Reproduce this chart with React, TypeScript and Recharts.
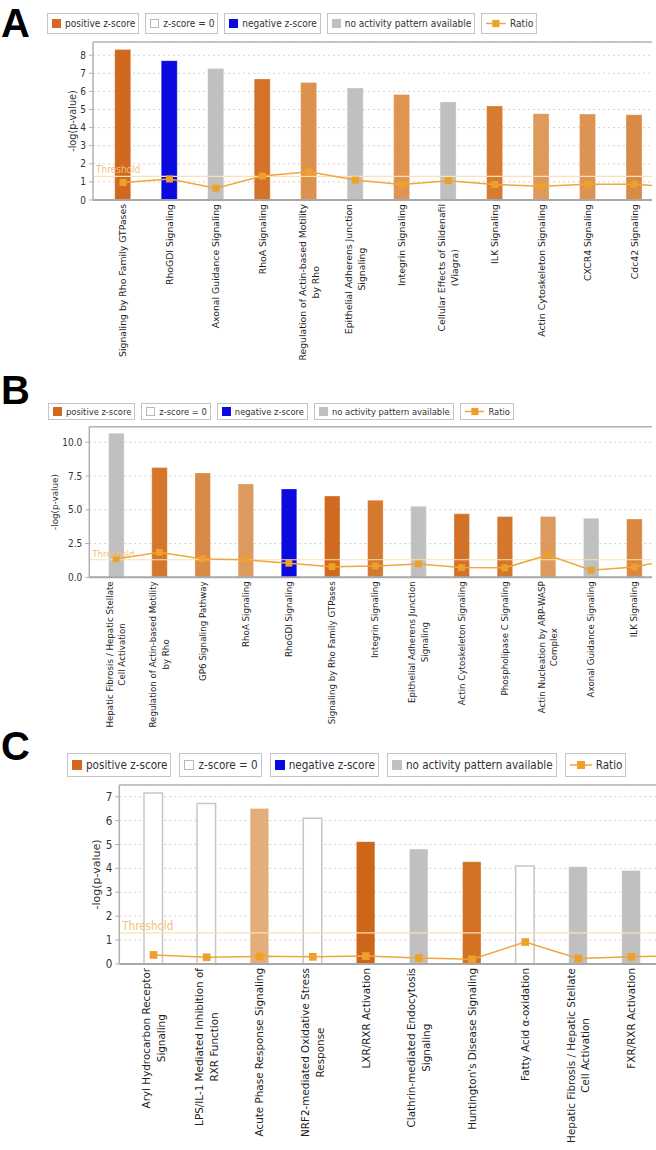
import React from "react";
import { ComposedChart, Bar, Line, XAxis, YAxis, CartesianGrid, ReferenceLine, Cell } from "recharts";

// ---- panel A ----
const catsA = [
  "Signaling by Rho Family GTPases",
  "RhoGDI Signaling",
  "Axonal Guidance Signaling",
  "RhoA Signaling",
  "Regulation of Actin-based Motility\nby Rho",
  "Epithelial Adherens Junction\nSignaling",
  "Integrin Signaling",
  "Cellular Effects of Sildenafil\n(Viagra)",
  "ILK Signaling",
  "Actin Cytoskeleton Signaling",
  "CXCR4 Signaling",
  "Cdc42 Signaling",
  "", // next pathway, scrolled out of view
];
const pvalA = [8.31, 7.7, 7.26, 6.69, 6.49, 6.19, 5.83, 5.42, 5.2, 4.77, 4.75, 4.71, null];
const ratioA = [0.97, 1.16, 0.65, 1.32, 1.56, 1.1, 0.86, 1.07, 0.86, 0.76, 0.87, 0.87, 0.7];
const colorA = ["#d0691d", "#0a0ade", "#c0c0c0", "#d4722a", "#dc914d", "#c0c0c0", "#de9552", "#c0c0c0", "#d67c32", "#dd9a5a", "#dc9452", "#d98a44", "#c0c0c0"];

// ---- panel B ----
const catsB = [
  "Hepatic Fibrosis / Hepatic Stellate\nCell Activation",
  "Regulation of Actin-based Motility\nby Rho",
  "GP6 Signaling Pathway",
  "RhoA Signaling",
  "RhoGDI Signaling",
  "Signaling by Rho Family GTPases",
  "Integrin Signaling",
  "Epithelial Adherens Junction\nSignaling",
  "Actin Cytoskeleton Signaling",
  "Phospholipase C Signaling",
  "Actin Nucleation by ARP-WASP\nComplex",
  "Axonal Guidance Signaling",
  "ILK Signaling",
  "",
];
const pvalB = [10.67, 8.12, 7.73, 6.91, 6.54, 6.02, 5.7, 5.26, 4.7, 4.5, 4.5, 4.37, 4.31, null];
const ratioB = [1.36, 1.85, 1.36, 1.3, 1.04, 0.79, 0.84, 0.99, 0.72, 0.7, 1.64, 0.52, 0.77, 1.4];
const colorB = ["#c0c0c0", "#d4772d", "#d98b46", "#dc9a5e", "#0a0ade", "#cf6a1e", "#d5792e", "#c0c0c0", "#d27228", "#d4762b", "#dc9a5c", "#c0c0c0", "#d98741", "#c0c0c0"];

// ---- panel C ----
const catsC = [
  "Aryl Hydrocarbon Receptor\nSignaling",
  "LPS/IL-1 Mediated Inhibition of\nRXR Function",
  "Acute Phase Response Signaling",
  "NRF2-mediated Oxidative Stress\nResponse",
  "LXR/RXR Activation",
  "Clathrin-mediated Endocytosis\nSignaling",
  "Huntington's Disease Signaling",
  "Fatty Acid α-oxidation",
  "Hepatic Fibrosis / Hepatic Stellate\nCell Activation",
  "FXR/RXR Activation",
  "",
];
const pvalC = [7.16, 6.72, 6.51, 6.1, 5.12, 4.81, 4.28, 4.1, 4.07, 3.91, null];
const ratioC = [0.38, 0.28, 0.32, 0.3, 0.33, 0.25, 0.2, 0.92, 0.23, 0.3, 0.36];
const colorC = ["none", "none", "#e4ad7c", "none", "#cd6619", "#c0c0c0", "#d27222", "none", "#c0c0c0", "#c0c0c0", "#c0c0c0"];

const THRESHOLD = 1.3;

const NARROW = "'DejaVu Sans Condensed', 'Liberation Sans Narrow', 'DejaVu Sans', sans-serif";
const LABEL_FONT = "'DejaVu Sans', Verdana, sans-serif";
const RATIO = "#eea02c";

let ctx: CanvasRenderingContext2D | null = null;
const textWidth = (s: string, fs: number) => {
  if (!ctx) ctx = document.createElement("canvas").getContext("2d");
  if (!ctx) return s.length * fs * 0.55;
  ctx.font = `${fs}px "DejaVu Sans"`;
  return ctx.measureText(s).width;
};

const CatTick = (props: any) => {
  const { x, y, payload, fs, gap } = props;
  const lines = String(payload.value).split("\n");
  const lh = fs * 1.4;
  const maxW = Math.max(...lines.map((l: string) => textWidth(l, fs)));
  const cx = -(gap + maxW / 2);
  return (
    <g transform={`translate(${x},${y})`}>
      <text transform="rotate(-90)" fontSize={fs} fontFamily={LABEL_FONT} fill="#1e1e1e" textAnchor="middle">
        {lines.map((l: string, i: number) => (
          <tspan key={i} x={cx} y={(i - (lines.length - 1) / 2) * lh + fs * 0.36}>
            {l}
          </tspan>
        ))}
      </text>
    </g>
  );
};

const SquareDot = (props: any) => {
  const { cx, cy, size } = props;
  if (cx == null || cy == null) return null;
  return <rect x={cx - size / 2} y={cy - size / 2} width={size} height={size} fill={RATIO} />;
};

type PanelProps = {
  top: number;
  clipW: number;
  cats: string[];
  pval: (number | null)[];
  ratio: number[];
  colors: string[];
  yMax: number;
  ticks: number[];
  fmt: (v: number) => string;
  marginTop: number;
  plotH: number;
  xAxisH: number;
  yAxisW: number;
  padLeft: number;
  band: number;
  barSize: number;
  labelFs: number;
  tickFs: number;
  yLabelX: number;
  yLabelFs: number;
  mark: number;
  threshFs: number;
};

const Panel = (p: PanelProps) => {
  const data = p.cats.map((c, i) => ({ name: c, pval: p.pval[i], ratio: p.ratio[i] }));
  const height = p.marginTop + p.plotH + p.xAxisH;
  const chartW = Math.round(p.yAxisW + p.padLeft + p.band * p.cats.length);
  const cy = p.marginTop + p.plotH / 2;
  return (
    <div style={{ position: "absolute", left: 0, top: p.top, width: p.clipW, height, overflow: "hidden" }}>
      <ComposedChart width={chartW} height={height} data={data} margin={{ top: p.marginTop, right: 0, bottom: 0, left: 0 }}>
        <CartesianGrid vertical={false} stroke="#d2d2d2" strokeDasharray="2 3" />
        <XAxis
          dataKey="name"
          interval={0}
          height={p.xAxisH}
          tickSize={0}
          tickMargin={0}
          tickLine={false}
          padding={{ left: p.padLeft, right: 0 }}
          axisLine={{ stroke: "#a8a8a8", strokeWidth: 2 }}
          tick={<CatTick fs={p.labelFs} gap={4} />}
        />
        <YAxis
          width={p.yAxisW}
          domain={[0, p.yMax]}
          ticks={p.ticks}
          interval={0}
          tickFormatter={p.fmt}
          tickSize={4}
          tickMargin={3}
          axisLine={{ stroke: "#b0b0b0", strokeWidth: 1.5 }}
          tickLine={{ stroke: "#b0b0b0" }}
          tick={{ fontSize: p.tickFs, fontFamily: NARROW, fill: "#333" }}
          label={() => (
            <text
              transform={`translate(${p.yLabelX},${cy}) rotate(-90)`}
              textAnchor="middle"
              dominantBaseline="central"
              fontSize={p.yLabelFs}
              fontFamily={LABEL_FONT}
              fill="#333"
            >
              -log(p-value)
            </text>
          )}
        />
        <ReferenceLine y={p.yMax} stroke="#b4b4b4" strokeWidth={1.5} />
        <Bar dataKey="pval" barSize={p.barSize} isAnimationActive={false}>
          {data.map((d, i) => {
            const c = p.colors[i];
            const hollow = c === "none";
            return (
              <Cell
                key={i}
                fill={hollow ? "#ffffff" : c}
                stroke={hollow ? "#c6c6c6" : "rgba(255,255,255,0.3)"}
                strokeWidth={hollow ? 1.5 : 1}
              />
            );
          })}
        </Bar>
        <ReferenceLine
          y={THRESHOLD}
          stroke="#fbe0b6"
          strokeWidth={1.2}
          label={{ value: "Threshold", position: "insideBottomLeft", offset: 3, fill: "#f3c07c", fontSize: p.threshFs, fontFamily: NARROW }}
        />
        <Line
          dataKey="ratio"
          stroke="#f0a63a"
          strokeWidth={1.5}
          dot={<SquareDot size={p.mark} />}
          activeDot={false}
          isAnimationActive={false}
        />
      </ComposedChart>
    </div>
  );
};

const legendItems = [
  { kind: "pos", label: "positive z-score" },
  { kind: "zero", label: "z-score = 0" },
  { kind: "neg", label: "negative z-score" },
  { kind: "none", label: "no activity pattern available" },
  { kind: "ratio", label: "Ratio" },
];

const Swatch = ({ kind, s }: { kind: string; s: number }) => {
  if (kind === "ratio") {
    return (
      <svg width={s * 2.2} height={s} style={{ display: "block" }}>
        <line x1={0} x2={s * 2.2} y1={s / 2} y2={s / 2} stroke="#f0a63a" strokeWidth={1.5} />
        <rect x={s * 1.1 - s * 0.4} y={s * 0.1} width={s * 0.8} height={s * 0.8} fill={RATIO} />
      </svg>
    );
  }
  const bg = kind === "pos" ? "#d0691d" : kind === "neg" ? "#0a0ade" : kind === "none" ? "#c0c0c0" : "#fff";
  return (
    <div
      style={{
        width: s,
        height: s,
        boxSizing: "border-box",
        background: bg,
        border: kind === "zero" ? "1px solid #b8b8b8" : "none",
      }}
    />
  );
};

const LegendRow = ({ top, left, fs, h, gap, s }: { top: number; left: number; fs: number; h: number; gap: number; s: number }) => (
  <div style={{ position: "absolute", top, left, display: "flex", gap, fontFamily: NARROW, fontSize: fs, color: "#333" }}>
    {legendItems.map((it) => (
      <div
        key={it.kind}
        style={{
          height: h,
          boxSizing: "border-box",
          border: "1px solid #c4c4c4",
          display: "flex",
          alignItems: "center",
          padding: "0 3px 0 4px",
          gap: 4,
          whiteSpace: "nowrap",
          background: "#fff",
        }}
      >
        <Swatch kind={it.kind} s={s} />
        <span>{it.label}</span>
      </div>
    ))}
  </div>
);

const Letter = ({ ch, top }: { ch: string; top: number }) => (
  <div
    style={{
      position: "absolute",
      left: 1,
      top,
      fontFamily: "'Liberation Sans', Arial, sans-serif",
      fontWeight: 700,
      fontSize: 40,
      lineHeight: 1,
    }}
  >
    {ch}
  </div>
);

const intFmt = (v: number) => String(v);
const decFmt = (v: number) => v.toFixed(1);

export default function App() {
  return (
    <div style={{ position: "absolute", left: 0, top: 0, width: 656, height: 1150, background: "#fff", overflow: "hidden" }}>
      <Panel
        top={0}
        clipW={652}
        cats={catsA}
        pval={pvalA}
        ratio={ratioA}
        colors={colorA}
        yMax={8.73}
        ticks={[0, 1, 2, 3, 4, 5, 6, 7, 8]}
        fmt={intFmt}
        marginTop={42}
        plotH={158}
        xAxisH={170}
        yAxisW={93}
        padLeft={6.75}
        band={46.5}
        barSize={16}
        labelFs={9.3}
        tickFs={10}
        yLabelX={72}
        yLabelFs={9.7}
        mark={7}
        threshFs={10}
      />
      <Panel
        top={380}
        clipW={652}
        cats={catsB}
        pval={pvalB}
        ratio={ratioB}
        colors={colorB}
        yMax={11.15}
        ticks={[0, 2.5, 5, 7.5, 10]}
        fmt={decFmt}
        marginTop={46.7}
        plotH={150.6}
        xAxisH={165}
        yAxisW={89.3}
        padLeft={5.3}
        band={43.17}
        barSize={15.5}
        labelFs={8.7}
        tickFs={10}
        yLabelX={55}
        yLabelFs={8.8}
        mark={6.8}
        threshFs={9.5}
      />
      <Panel
        top={740}
        clipW={656}
        cats={catsC}
        pval={pvalC}
        ratio={ratioC}
        colors={colorC}
        yMax={7.49}
        ticks={[0, 1, 2, 3, 4, 5, 6, 7]}
        fmt={intFmt}
        marginTop={45}
        plotH={179}
        xAxisH={186}
        yAxisW={119.3}
        padLeft={7.7}
        band={53.08}
        barSize={18.5}
        labelFs={10.4}
        tickFs={11.5}
        yLabelX={96}
        yLabelFs={11}
        mark={7.7}
        threshFs={11.5}
      />
      <Letter ch="A" top={2.5} />
      <Letter ch="B" top={370} />
      <Letter ch="C" top={726} />
      <LegendRow top={13} left={47} fs={10} h={21} gap={6} s={9} />
      <LegendRow top={403} left={48} fs={9.3} h={17} gap={6} s={9} />
      <LegendRow top={753} left={67} fs={11.6} h={24} gap={8} s={10} />
    </div>
  );
}
